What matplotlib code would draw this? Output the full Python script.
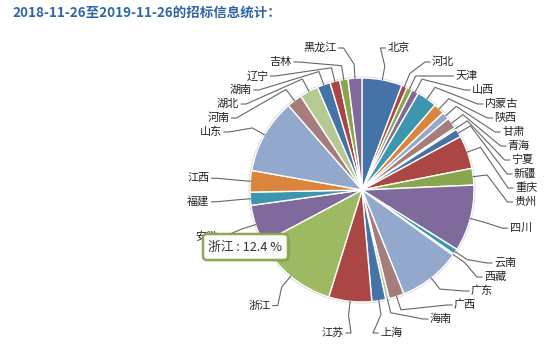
import numpy as np
import matplotlib
matplotlib.use("Agg")
import matplotlib.pyplot as plt
from matplotlib.patches import FancyBboxPatch, Circle
from matplotlib.colors import to_rgb

plt.rcParams['font.family'] = ['Noto Sans CJK SC', 'DejaVu Sans']

title = "2018-11-26至2019-11-26的招标信息统计："
provinces = ["北京", "河北", "天津", "山西", "内蒙古", "陕西", "甘肃", "青海", "宁夏", "新疆",
             "重庆", "贵州", "四川", "云南", "西藏", "广东", "广西", "海南", "上海", "江苏",
             "浙江", "安徽", "福建", "江西", "山东", "河南", "湖北", "湖南", "辽宁", "吉林", "黑龙江"]
shares = [5.8, 0.8, 0.8, 1.0, 2.9, 1.6, 1.1, 1.6, 0.3, 1.2,
          4.8, 2.4, 9.6, 0.8, 0.2, 9.0, 2.2, 0.5, 2.0, 6.2,
          12.4, 5.6, 1.9, 3.1, 10.8, 2.2, 2.7, 1.9, 1.4, 1.2, 2.0]
tooltip_province = "浙江"

palette = ['#4572A7', '#AA4643', '#89A54E', '#80699B', '#3D96AE',
           '#DB843D', '#92A8CD', '#A47D7C', '#B5CA92']
colors = [palette[i % len(palette)] for i in range(len(shares))]

ti = provinces.index(tooltip_province)
base = np.array(to_rgb(colors[ti]))
fill_colors = list(colors)
fill_colors[ti] = tuple(np.clip(base + 0.08, 0, 1))  # hover brightening

W, H = 555, 353
fig = plt.figure(figsize=(W / 100, H / 100), dpi=100)
ax = fig.add_axes([0, 0, 1, 1])

cx, cy_px, R = 362, 190, 112
cy = H - cy_px

wedges, _ = ax.pie(shares, colors=fill_colors, startangle=90, counterclock=False,
                   center=(cx, cy), radius=R,
                   wedgeprops=dict(edgecolor='white', linewidth=1.0))
ax.add_patch(Circle((cx, cy), R + 0.8, fill=False, edgecolor='#d8d8d8', lw=1.0, zorder=0.5))

ax.set_xlim(0, W)
ax.set_ylim(0, H)
ax.set_aspect('auto')
ax.axis('off')

# ---- data labels (Highcharts-like layout) ----
vals = np.array(shares, dtype=float)
cum = np.cumsum(vals) / vals.sum() * 360.0
mids = cum - vals / vals.sum() * 360.0 / 2  # clockwise from top, degrees

rl = 150.0
ymin, ymax, step = 48.0, 333.0, 14.0
ax_e, bx_e = 153.0, 144.0

def distribute(idx):
    nat = [cy_px - rl * np.cos(np.radians(mids[i])) for i in idx]
    order = np.argsort(nat)
    ys = [nat[k] for k in order]
    out = ys[:]
    prev = ymin - step
    for j in range(len(out)):
        out[j] = max(out[j], prev + step)
        prev = out[j]
    nxt = ymax + step
    for j in range(len(out) - 1, -1, -1):
        out[j] = min(out[j], nxt - step)
        nxt = out[j]
    return {idx[order[j]]: out[j] for j in range(len(out))}

right = [i for i in range(len(vals)) if mids[i] < 180]
left = [i for i in range(len(vals)) if mids[i] >= 180]
ypos = {}
ypos.update(distribute(right))
ypos.update(distribute(left))

for i in range(len(vals)):
    side = 1 if i in right else -1
    y = ypos[i]
    dy = np.clip(y - cy_px, -bx_e + 0.6, bx_e - 0.6)
    xt = cx + side * ax_e * np.sqrt(1 - (dy / bx_e) ** 2)
    th = np.radians(mids[i])
    ex, ey = cx + R * np.sin(th), cy_px - R * np.cos(th)
    bxp, byp = cx + (R + 14) * np.sin(th), cy_px - (R + 14) * np.cos(th)
    xs = [xt - side * 2, xt - side * 7, bxp, ex]
    ysl = [y, y, byp, ey]
    ax.plot(xs, [H - v for v in ysl], color='#666666', lw=0.8, zorder=3,
            solid_joinstyle='round')
    ax.text(xt, H - y, provinces[i], ha='left' if side > 0 else 'right', va='center',
            fontsize=8.0, color='#222222', zorder=4)

# ---- title ----
ax.text(12, H - 13, title, ha='left', va='center', fontsize=9.7, fontweight='bold',
        color='#2f66a6')

# ---- tooltip ----
pct = vals[ti] / vals.sum() * 100
tx0, ty0, tw, th_ = 203, 234, 85, 26
shadow = FancyBboxPatch((tx0 + 1.5, H - ty0 - th_ - 1.5), tw, th_,
                        boxstyle="round,pad=0,rounding_size=4",
                        facecolor='#000000', alpha=0.12, edgecolor='none', zorder=9)
ax.add_patch(shadow)
box = FancyBboxPatch((tx0, H - ty0 - th_), tw, th_,
                     boxstyle="round,pad=0,rounding_size=4",
                     facecolor='#ffffff', alpha=0.95, edgecolor=colors[ti], lw=1.8, zorder=10)
ax.add_patch(box)
ax.text(tx0 + tw / 2, H - ty0 - th_ / 2, f"{tooltip_province} : {pct:.1f} %", ha='center',
        va='center', fontsize=9.2, color='#333333', zorder=11)

fig.savefig('out.png', dpi=100)
